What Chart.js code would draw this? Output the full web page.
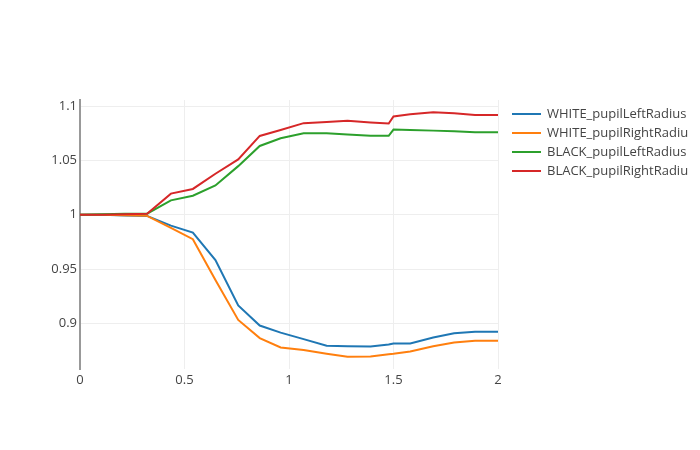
<!DOCTYPE html>
<html>
<head>
<meta charset="utf-8">
<script src="https://cdn.jsdelivr.net/npm/chart.js@4"></script>
<style>
  body { margin: 0; background: #fff; }
</style>
</head>
<body>
<canvas id="pupil" width="700" height="450"></canvas>
<script>
// time axis (shared by all traces)
var timeValues = [0, 0.107, 0.214, 0.321, 0.435, 0.54, 0.648, 0.757, 0.86, 0.96, 1.07,
                  1.18, 1.28, 1.39, 1.477, 1.5, 1.58, 1.69, 1.79, 1.89, 2.0];

var whiteLeft  = [1.0, 1.0, 0.9993, 0.999, 0.990, 0.9836, 0.9583, 0.9165, 0.898, 0.8915, 0.8855,
                  0.8794, 0.879, 0.8788, 0.8805, 0.8815, 0.8815, 0.887, 0.891, 0.8924, 0.8924];
var whiteRight = [1.0, 1.0, 0.9995, 0.999, 0.988, 0.9775, 0.940, 0.9032, 0.8865, 0.8778, 0.8755,
                  0.872, 0.8692, 0.8695, 0.8715, 0.872, 0.8741, 0.879, 0.8825, 0.884, 0.884];
var blackLeft  = [1.0, 1.0005, 1.001, 1.001, 1.0133, 1.0176, 1.027, 1.0448, 1.0634, 1.0705, 1.075,
                  1.075, 1.074, 1.0727, 1.0727, 1.0785, 1.078, 1.0775, 1.077, 1.076, 1.076];
var blackRight = [1.0, 1.0, 1.0005, 1.001, 1.0195, 1.0238, 1.0378, 1.051, 1.0726, 1.078, 1.0844,
                  1.0855, 1.0866, 1.085, 1.084, 1.0906, 1.0925, 1.0944, 1.0935, 1.092, 1.092];

var seriesNames = ["WHITE_pupilLeftRadius", "WHITE_pupilRightRadius",
                   "BLACK_pupilLeftRadius", "BLACK_pupilRightRadius"];
var seriesValues = [whiteLeft, whiteRight, blackLeft, blackRight];
var colors = ["#1f77b4", "#ff7f0e", "#2ca02c", "#d62728"];

var FONT = "'Open Sans', 'DejaVu Sans', sans-serif";

function fmt(v) {
    return String(+v.toFixed(2));
}

// plotly-like legend at the right, clipped just before the page edge
var sideLegend = {
    id: "sideLegend",
    afterDraw: function (chart) {
        var ctx = chart.ctx;
        ctx.save();
        ctx.beginPath();
        ctx.rect(0, 0, 688, chart.height);
        ctx.clip();
        ctx.font = "13px " + FONT;
        ctx.textBaseline = "middle";
        ctx.textAlign = "left";
        chart.data.datasets.forEach(function (ds, i) {
            var y = 114 + i * 19;
            ctx.strokeStyle = ds.borderColor;
            ctx.lineWidth = 2;
            ctx.beginPath();
            ctx.moveTo(512, y);
            ctx.lineTo(541, y);
            ctx.stroke();
            ctx.fillStyle = "#444";
            ctx.fillText(ds.label, 547, y);
        });
        ctx.restore();
    }
};

new Chart("pupil", {
    type: "line",
    data: {
        datasets: seriesNames.map(function (name, i) {
            return {
                label: name,
                data: timeValues.map(function (t, j) { return { x: t, y: seriesValues[i][j] }; }),
                borderColor: colors[i],
                backgroundColor: colors[i],
                borderWidth: 2,
                pointRadius: 0,
                tension: 0,
                fill: false,
                order: seriesNames.length - i,
            };
        })
    },
    options: {
        responsive: false,
        animation: false,
        layout: { padding: { left: 0, right: 202, top: 100, bottom: 0 } },
        plugins: {
            legend: { display: false },
            tooltip: { enabled: false },
        },
        scales: {
            x: {
                type: "linear",
                min: 0,
                max: 2,
                afterFit: function (s) { s.height = 81; },
                grid: { color: "#eee", lineWidth: 1, drawTicks: false },
                border: { display: false },
                ticks: {
                    stepSize: 0.5,
                    padding: 3,
                    color: "#444",
                    font: { family: FONT, size: 13 },
                    maxRotation: 0,
                    callback: fmt,
                },
            },
            y: {
                type: "linear",
                min: 0.858,
                max: 1.1057,
                afterFit: function (s) { s.width = 80; },
                grid: { color: "#eee", lineWidth: 1, drawTicks: false },
                border: { display: true, color: "#999", width: 2 },
                ticks: {
                    stepSize: 0.05,
                    includeBounds: false,
                    padding: 3,
                    color: "#444",
                    font: { family: FONT, size: 13 },
                    callback: fmt,
                },
            },
        },
    },
    plugins: [sideLegend],
});
</script>
</body>
</html>
